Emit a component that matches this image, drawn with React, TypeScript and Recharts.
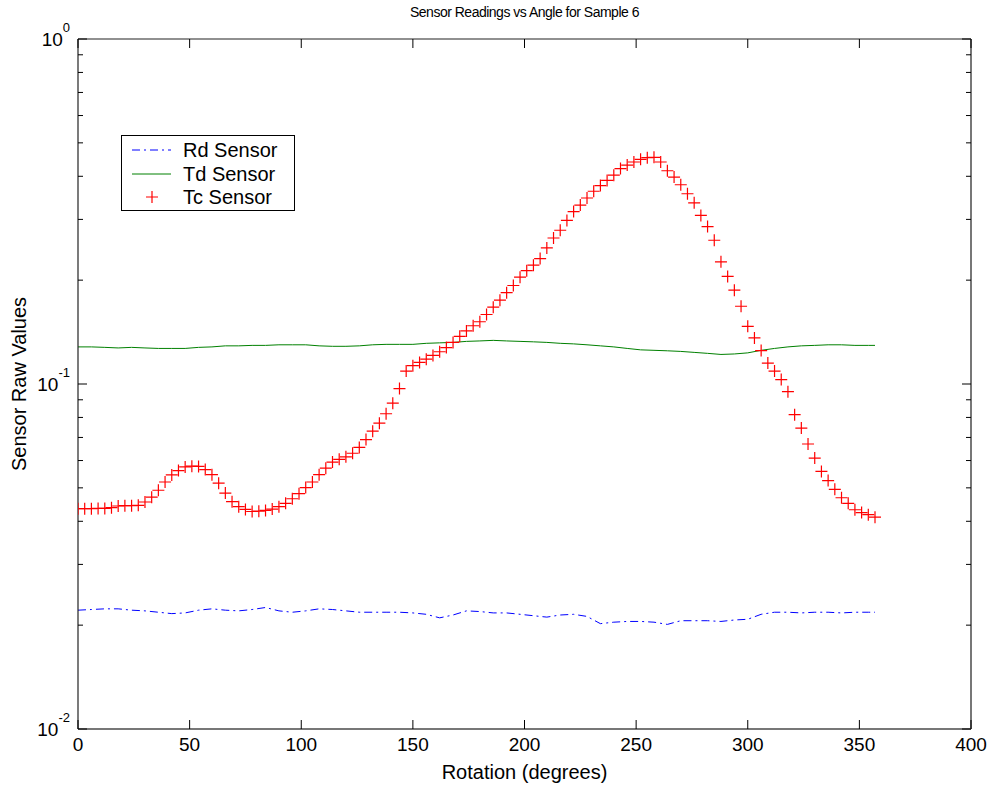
import React from "react";
import { LineChart, Line, XAxis, YAxis, Legend, Label, ReferenceLine } from "recharts";

// x grid for the Tc markers (degrees)
const tcAngles = [
    0, 3, 6, 9, 12, 15, 18, 21, 24, 27, 30, 33, 36, 39, 42, 45, 48, 51, 54, 57,
    60, 63, 66, 69, 72, 75, 78, 81, 84, 87, 90, 93, 96, 99, 102, 105, 108, 111, 114, 117,
    120, 123, 126, 129, 132, 135, 138, 141, 144, 147, 150, 153, 156, 159, 162, 165, 168, 171, 174, 177,
    180, 183, 186, 189, 192, 195, 198, 201, 204, 207, 210, 213, 216, 219, 222, 225, 228, 231, 234, 237,
    240, 243, 246, 249, 252, 255, 258, 261, 264, 267, 270, 273, 276, 279, 282, 285, 288, 291, 294, 297,
    300, 303, 306, 309, 312, 315, 318, 321, 324, 327, 330, 333, 336, 339, 342, 345, 348, 351, 354, 357,
];

const tcValues = [
    0.0435, 0.0435, 0.0435, 0.0436, 0.0436, 0.0438, 0.0443, 0.0444, 0.0444, 0.0445,
    0.0455, 0.0470, 0.0492, 0.0520, 0.0545, 0.0561, 0.0575, 0.0578, 0.0577, 0.0565,
    0.0546, 0.0516, 0.0483, 0.0456, 0.0441, 0.0433, 0.0427, 0.0428, 0.0430, 0.0434,
    0.0441, 0.0451, 0.0465, 0.0481, 0.0501, 0.0520, 0.0546, 0.0570, 0.0594, 0.0605,
    0.0615, 0.0630, 0.0655, 0.0690, 0.0730, 0.0770, 0.0820, 0.0880, 0.0970, 0.1090,
    0.1130, 0.1155, 0.1180, 0.1210, 0.1240, 0.1275, 0.1320, 0.1375, 0.1425, 0.1475,
    0.1515, 0.1590, 0.1670, 0.1750, 0.1840, 0.1930, 0.2040, 0.2130, 0.2210, 0.2310,
    0.2480, 0.2650, 0.2790, 0.2980, 0.3160, 0.3300, 0.3460, 0.3620, 0.3760, 0.3890,
    0.4030, 0.4210, 0.4310, 0.4400, 0.4480, 0.4530, 0.4540, 0.4400, 0.4150, 0.3980,
    0.3780, 0.3560, 0.3350, 0.3080, 0.2860, 0.2610, 0.2260, 0.2050, 0.1870, 0.1680,
    0.1470, 0.1360, 0.1250, 0.1150, 0.1090, 0.1030, 0.0950, 0.0815, 0.0745, 0.0670,
    0.0610, 0.0558, 0.0525, 0.0495, 0.0468, 0.0451, 0.0432, 0.0424, 0.0418, 0.0411,
];

// x grid for the two line sensors
const lineAngles = [
    0, 6, 12, 18, 24, 30, 36, 42, 48, 54, 60, 66, 72, 78, 84, 90, 96, 102, 108, 114,
    120, 126, 132, 138, 144, 150, 156, 162, 168, 174, 180, 186, 192, 198, 204, 210, 216, 222, 228, 234,
    240, 246, 252, 258, 264, 270, 276, 282, 288, 294, 300, 306, 312, 318, 324, 330, 336, 342, 348, 354, 357,
];

const tdValues = [
    0.1281, 0.1281, 0.1277, 0.1272, 0.1277, 0.1272, 0.1268, 0.1268, 0.1268, 0.1277,
    0.1281, 0.1290, 0.1290, 0.1294, 0.1294, 0.1299, 0.1299, 0.1299, 0.1290, 0.1286,
    0.1286, 0.1290, 0.1299, 0.1303, 0.1303, 0.1303, 0.1312, 0.1316, 0.1320, 0.1329,
    0.1333, 0.1338, 0.1333, 0.1329, 0.1325, 0.1320, 0.1312, 0.1307, 0.1299, 0.1290,
    0.1281, 0.1268, 0.1256, 0.1252, 0.1248, 0.1243, 0.1235, 0.1227, 0.1218, 0.1222,
    0.1231, 0.1252, 0.1268, 0.1281, 0.1290, 0.1294, 0.1299, 0.1299, 0.1294, 0.1294, 0.1294,
];

const rdValues = [
    0.0221, 0.0222, 0.0223, 0.0223, 0.0221, 0.0220, 0.0218, 0.0216, 0.0217, 0.0221,
    0.0223, 0.0221, 0.0220, 0.0222, 0.0225, 0.0220, 0.0218, 0.0220, 0.0223, 0.0222,
    0.0220, 0.0218, 0.0218, 0.0218, 0.0218, 0.0217, 0.0215, 0.0210, 0.0214, 0.0220,
    0.0219, 0.0217, 0.0217, 0.0215, 0.0213, 0.0211, 0.0214, 0.0215, 0.0212, 0.0202,
    0.0204, 0.0205, 0.0205, 0.0204, 0.0201, 0.0206, 0.0206, 0.0206, 0.0205, 0.0207,
    0.0208, 0.0215, 0.0218, 0.0218, 0.0217, 0.0218, 0.0218, 0.0217, 0.0218, 0.0218, 0.0218,
];

const xTicks = [0, 50, 100, 150, 200, 250, 300, 350, 400];
const yMajor = [0.01, 0.1, 1];
const yTicks = [
    0.01, 0.02, 0.03, 0.04, 0.05, 0.06, 0.07, 0.08, 0.09,
    0.1, 0.2, 0.3, 0.4, 0.5, 0.6, 0.7, 0.8, 0.9, 1,
];
const seriesNames = ["Rd Sensor", "Td Sensor", "Tc Sensor"];

const FONT = "Arial, 'Liberation Sans', Helvetica, sans-serif";
const W = 988;
const H = 786;
const PLOT_W = 893;
const PLOT_H = 690;

const tcData = tcAngles.map((a, i) => ({ angle: a, tc: tcValues[i] }));
const lineData = lineAngles.map((a, i) => ({ angle: a, td: tdValues[i], rd: rdValues[i] }));

function YTick(props: any) {
    const { x, y, payload } = props;
    const v = payload.value;
    const major = yMajor.includes(v);
    const len = major ? 9 : 5;
    const exp = Math.round(Math.log10(v));
    return (
        <g>
            <line x1={x} x2={x + len} y1={y} y2={y} stroke="#000" />
            <line x1={x + PLOT_W} x2={x + PLOT_W - len} y1={y} y2={y} stroke="#000" />
            {major && (
                <text x={x - 8} y={y + 7} textAnchor="end" fontSize={19} fontFamily={FONT} fill="#000">
                    10
                    <tspan dy={-14} fontSize={13}>{exp}</tspan>
                </text>
            )}
        </g>
    );
}

function XTick(props: any) {
    const { x, y, payload } = props;
    return (
        <g>
            <line x1={x} x2={x} y1={y} y2={y - 9} stroke="#000" />
            <line x1={x} x2={x} y1={y - PLOT_H} y2={y - PLOT_H + 9} stroke="#000" />
            <text x={x} y={y + 22} textAnchor="middle" fontSize={19} fontFamily={FONT} fill="#000">
                {payload.value}
            </text>
        </g>
    );
}

function PlusDot(props: any) {
    const { cx, cy, index } = props;
    if (cx == null || cy == null) return <g key={index} />;
    return (
        <path
            key={index}
            d={`M${cx - 6},${cy}H${cx + 6}M${cx},${cy - 6}V${cy + 6}`}
            stroke="#ff0000"
            strokeWidth={1.2}
            fill="none"
        />
    );
}

function LegendBox() {
    const rows = [14, 38, 61];
    return (
        <div style={{ width: 174, height: 76, border: "1px solid #000", background: "#fff", boxSizing: "border-box" }}>
            <svg width={172} height={74}>
                <line x1={10} x2={49} y1={rows[0]} y2={rows[0]} stroke="#0000ff" strokeDasharray="8 4 2 4" />
                <line x1={10} x2={49} y1={rows[1]} y2={rows[1]} stroke="#008000" />
                <path d={`M24,${rows[2]}H36M30,${rows[2] - 6}V${rows[2] + 6}`} stroke="#ff0000" strokeWidth={1.2} />
                {seriesNames.map((n, i) => (
                    <text key={n} x={61} y={rows[i] + 7} fontSize={20} fontFamily={FONT} fill="#000">
                        {n}
                    </text>
                ))}
            </svg>
        </div>
    );
}

export default function App() {
    return (
        <div style={{ position: "absolute", left: 0, top: 0, width: W, height: H, background: "#fff" }}>
            <div
                style={{
                    position: "absolute",
                    left: 78,
                    top: 3,
                    width: PLOT_W,
                    textAlign: "center",
                    fontFamily: FONT,
                    fontSize: 14,
                    letterSpacing: "-0.5px",
                    lineHeight: "18px",
                    color: "#000",
                }}
            >
                Sensor Readings vs Angle for Sample 6
            </div>
            <LineChart width={W} height={H} margin={{ top: 39, right: 17, bottom: 0, left: 0 }}>
                <XAxis
                    dataKey="angle"
                    type="number"
                    domain={[0, 400]}
                    ticks={xTicks}
                    interval={0}
                    height={57}
                    tickSize={0}
                    tickMargin={0}
                    tick={<XTick />}
                    axisLine={{ stroke: "#777", strokeWidth: 2 }}
                    allowDataOverflow
                >
                    <Label
                        content={(p: any) => {
                            const vb = p.viewBox || { x: 78, y: 729, width: PLOT_W, height: 57 };
                            return (
                                <text x={vb.x + vb.width / 2} y={vb.y + 50} textAnchor="middle" fontSize={20} fontFamily={FONT} fill="#000">
                                    Rotation (degrees)
                                </text>
                            );
                        }}
                    />
                </XAxis>
                <YAxis
                    scale="log"
                    type="number"
                    domain={[0.01, 1]}
                    ticks={yTicks}
                    interval={0}
                    width={78}
                    tickSize={0}
                    tickMargin={0}
                    tick={<YTick />}
                    axisLine={{ stroke: "#222", strokeWidth: 1.2 }}
                    allowDataOverflow
                >
                    <Label
                        content={(p: any) => {
                            const vb = p.viewBox || { x: 0, y: 39, width: 78, height: PLOT_H };
                            const cy = vb.y + vb.height / 2;
                            return (
                                <text x={19} y={cy} transform={`rotate(-90 19 ${cy})`} textAnchor="middle" dominantBaseline="central" fontSize={20} fontFamily={FONT} fill="#000">
                                    Sensor Raw Values
                                </text>
                            );
                        }}
                    />
                </YAxis>
                <ReferenceLine y={1} stroke="#222" strokeWidth={1.2} />
                <ReferenceLine x={400} stroke="#777" strokeWidth={2} />
                <Line
                    data={lineData}
                    dataKey="rd"
                    name="Rd Sensor"
                    stroke="#0000ff"
                    strokeWidth={1}
                    strokeDasharray="8 4 2 4"
                    dot={false}
                    activeDot={false}
                    type="linear"
                    isAnimationActive={false}
                />
                <Line
                    data={lineData}
                    dataKey="td"
                    name="Td Sensor"
                    stroke="#008000"
                    strokeWidth={1}
                    dot={false}
                    activeDot={false}
                    type="linear"
                    isAnimationActive={false}
                />
                <Line
                    data={tcData}
                    dataKey="tc"
                    name="Tc Sensor"
                    stroke="none"
                    dot={<PlusDot />}
                    activeDot={false}
                    isAnimationActive={false}
                />
                <Legend
                    layout="vertical"
                    align="center"
                    verticalAlign="middle"
                    content={() => <LegendBox />}
                    wrapperStyle={{ left: 121, top: 135, width: 174, height: 76 }}
                />
            </LineChart>
        </div>
    );
}
